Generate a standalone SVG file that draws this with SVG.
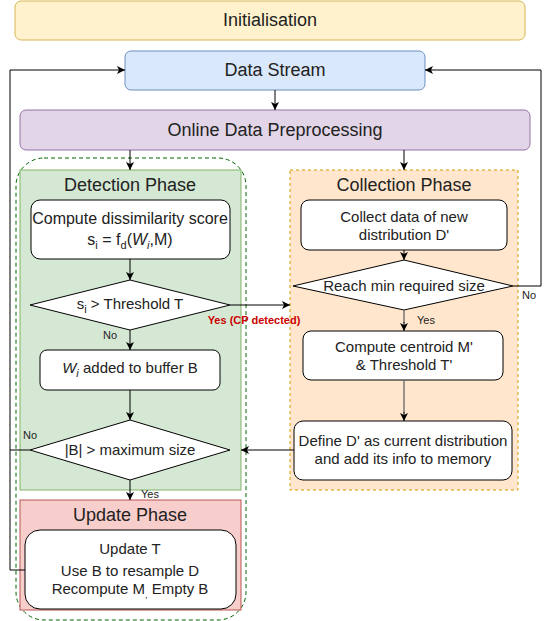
<svg xmlns="http://www.w3.org/2000/svg" width="560" height="621" viewBox="0 0 560 621">
<style>
text{font-family:"Liberation Sans",Arial,sans-serif;fill:#222;text-anchor:middle}
.big{font-size:18px}
.ttl{font-size:18px}
.b{font-size:15px}
.b16{font-size:16px}
.lbl{font-size:11px}
.box{fill:#fff;stroke:#000;stroke-width:1}
.c{fill:none;stroke:#000;stroke-width:1}
.g{fill:none;stroke:#666;stroke-width:1.3}
</style>
<defs>
<marker id="a" markerUnits="userSpaceOnUse" markerWidth="9" markerHeight="9" refX="8" refY="4.5" orient="auto">
<path d="M0,0.5 L8,4.5 L0,8.5 L2,4.5 z" fill="#000"/>
</marker>
</defs>
<g id="init"><rect x="15" y="1" width="510" height="39" rx="6" fill="#fff2cc" stroke="#d6b656"/><text class="big" x="270" y="26">Initialisation</text></g>
<g id="datastream"><rect x="125" y="51" width="300" height="39" rx="6" fill="#dae8fc" stroke="#6c8ebf"/><text class="big" x="275" y="76">Data Stream</text></g>
<g id="preproc"><rect x="20" y="110" width="510" height="40" rx="6" fill="#e1d5e7" stroke="#9673a6"/><text class="big" x="275" y="136">Online Data Preprocessing</text></g>
<g id="container"><rect x="16" y="158" width="230" height="462" rx="28" fill="none" stroke="#006600" stroke-dasharray="4 3"/></g>
<g id="detection"><rect x="20" y="170" width="221" height="320" fill="#d5e8d4" stroke="#82b366"/><text class="ttl" x="130" y="191">Detection Phase</text></g>
<g id="collection"><rect x="290" y="170" width="228" height="320" fill="#ffe6cc" stroke="#d79b00" stroke-dasharray="3 3"/><text class="ttl" x="404" y="191">Collection Phase</text></g>
<g id="update"><rect x="20" y="500" width="221" height="110" fill="#f8cecc" stroke="#b85450"/><text class="ttl" x="130" y="521">Update Phase</text></g>
<g id="compute"><rect class="box" x="31" y="200" width="199" height="59" rx="9"/><text class="b16" x="130" y="224">Compute dissimilarity score</text><text class="b16" x="130" y="245">s<tspan font-size="11" dy="4">i</tspan><tspan dy="-4"> = f</tspan><tspan font-size="11" dy="4">d</tspan><tspan dy="-4">(</tspan><tspan font-style="italic">W</tspan><tspan font-size="11" font-style="italic" dy="4">i</tspan><tspan dy="-4">,M)</tspan></text></g>
<g id="threshold"><path class="box" d="M130,280 L230,305 L130,330 L30,305 Z"/><text class="b" x="130" y="309">s<tspan font-size="11" dy="4">i</tspan><tspan dy="-4"> &gt; Threshold T</tspan></text></g>
<g id="buffer"><rect class="box" x="40" y="350" width="180" height="40" rx="7"/><text class="b" x="130" y="373"><tspan font-style="italic">W</tspan><tspan font-size="11" font-style="italic" dy="4">i</tspan><tspan dy="-4"> added to buffer B</tspan></text></g>
<g id="maxsize"><path class="box" d="M130,420 L230,450 L130,480 L30,450 Z"/><text class="b" x="130" y="455">|B| &gt; maximum size</text></g>
<g id="updatebox"><rect class="box" x="25" y="530" width="211" height="79" rx="15"/><text class="b" x="130" y="554">Update T</text><text class="b" x="130" y="576">Use B to resample D</text><text class="b" x="130" y="594">Recompute M<tspan font-size="9" dy="4">,</tspan><tspan dy="-4"> Empty B</tspan></text></g>
<g id="collect"><rect class="box" x="301" y="200" width="206" height="50" rx="8"/><text class="b" x="404" y="222">Collect data of new</text><text class="b" x="404" y="240">distribution D'</text></g>
<g id="reach"><path class="box" d="M404,260 L513,286 L404,310 L293,286 Z"/><text class="b" x="404" y="291">Reach min required size</text></g>
<g id="centroid"><rect class="box" x="303" y="331" width="200" height="49" rx="8"/><text class="b" x="404" y="352">Compute centroid M'</text><text class="b" x="404" y="370">&amp; Threshold T'</text></g>
<g id="define"><rect class="box" x="294" y="421" width="218" height="59" rx="9"/><text class="b" x="403" y="446">Define D' as current distribution</text><text class="b" x="403" y="464">and add its info to memory</text></g>
<g id="connectors">
<path class="c" d="M275,90 V110" marker-end="url(#a)"/>
<path class="c" d="M130,150 V170" marker-end="url(#a)"/>
<path class="c" d="M404,150 V170" marker-end="url(#a)"/>
<path class="c" d="M130,259 V280" marker-end="url(#a)"/>
<path class="c" d="M130,330 V350" marker-end="url(#a)"/>
<path class="c" d="M230,305 H290" marker-end="url(#a)"/>
<path class="c" d="M130,390 V420" marker-end="url(#a)"/>
<path class="c" d="M130,480 V500" marker-end="url(#a)"/>
<path class="c" d="M30,450 H10"/>
<path class="c" d="M25,570 H10 V70 H125" marker-end="url(#a)"/>
<path class="c" d="M404,250 V260" marker-end="url(#a)"/>
<path class="c" d="M513,286 H541 V70 H425" marker-end="url(#a)"/>
<path class="g" d="M404,310 V323"/><path class="c" d="M404,322 V331" marker-end="url(#a)"/>
<path class="g" d="M404,380 V413"/><path class="c" d="M404,412 V421" marker-end="url(#a)"/>
<path class="c" d="M294,450 H241" marker-end="url(#a)"/>
</g>
<g id="labels">
<text class="lbl" x="110" y="339">No</text>
<text class="lbl" x="30" y="439">No</text>
<text class="lbl" x="150" y="498">Yes</text>
<text class="lbl" x="426" y="324">Yes</text>
<text class="lbl" x="529" y="299">No</text>
<text class="lbl" x="254" y="324" font-weight="bold" style="fill:#cc0000">Yes (CP detected)</text>
</g>
</svg>
